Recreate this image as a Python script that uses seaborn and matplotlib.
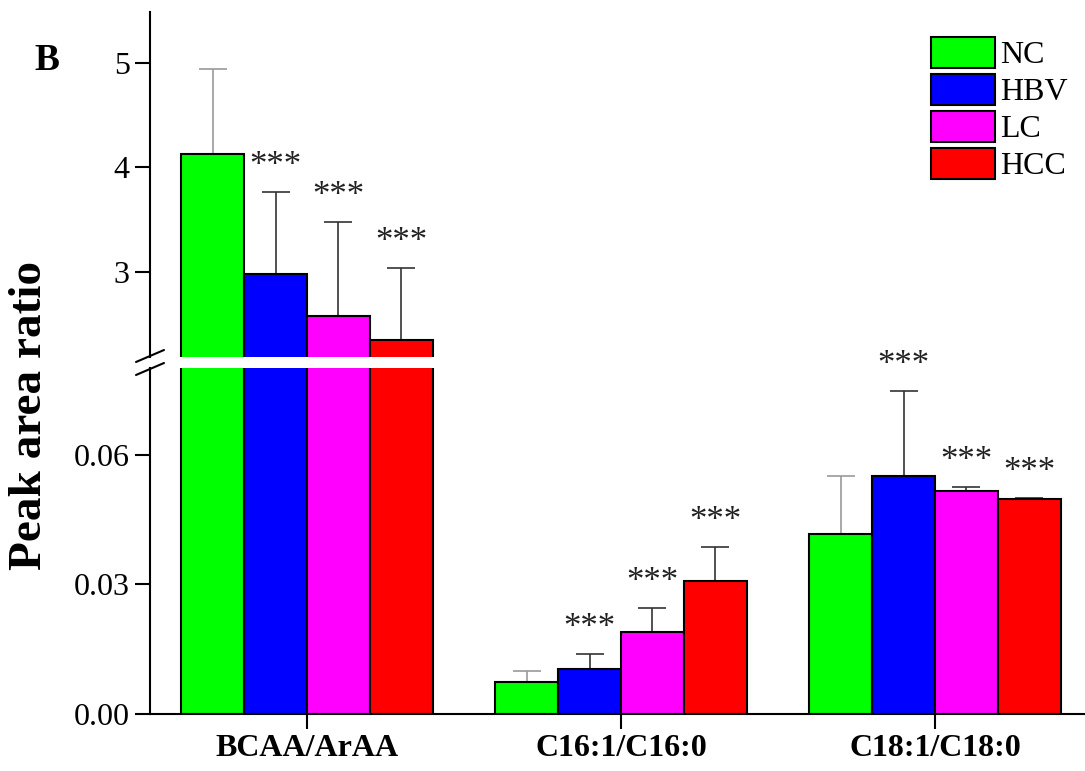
import matplotlib
matplotlib.use("Agg")
import matplotlib.pyplot as plt
import matplotlib.patches as mpatches
from matplotlib.container import BarContainer
from matplotlib.ticker import FormatStrFormatter
import seaborn as sns
import pandas as pd
import numpy as np

# ---- data ----
categories = ["BCAA/ArAA", "C16:1/C16:0", "C18:1/C18:0"]
groups = ["NC", "HBV", "LC", "HCC"]
nc_mean = [4.13, 0.0074, 0.0417]
hbv_mean = [2.98, 0.0104, 0.0551]
lc_mean = [2.58, 0.0190, 0.0517]
hcc_mean = [2.35, 0.0308, 0.0498]
nc_err = [0.81, 0.0026, 0.0134]
hbv_err = [0.79, 0.0035, 0.0197]
lc_err = [0.90, 0.0056, 0.0009]
hcc_err = [0.69, 0.0079, 0.0002]
nc_sig = [False, False, False]
hbv_sig = [True, True, True]
lc_sig = [True, True, True]
hcc_sig = [True, True, True]
colors = ["#00FF00", "#0000FF", "#FF00FF", "#FF0000"]
err_colors = ["#9a9a9a", "#333333", "#333333", "#333333"]
upper_ticks = [3, 4, 5]
lower_ticks = [0.00, 0.03, 0.06]

means = [nc_mean, hbv_mean, lc_mean, hcc_mean]
errs = [nc_err, hbv_err, lc_err, hcc_err]
sigs = [nc_sig, hbv_sig, lc_sig, hcc_sig]

rows = []
for g, m in zip(groups, means):
    for c, v in zip(categories, m):
        rows.append({"Category": c, "Group": g, "Value": v})
df = pd.DataFrame(rows)

sns.set_theme(style="ticks")
plt.rcParams["font.family"] = ["Liberation Serif", "DejaVu Serif"]
plt.rcParams["axes.linewidth"] = 1.5
for k in ("text.color", "axes.labelcolor", "xtick.color", "ytick.color", "axes.edgecolor"):
    plt.rcParams[k] = "black"

fig = plt.figure(figsize=(10.85, 7.71), dpi=100)
L = 150 / 1085
W = 1.0 - L
ax_top = fig.add_axes([L, 1 - 356.7 / 771, W, (356.7 - 11.7) / 771])
ax_bot = fig.add_axes([L, 1 - 714 / 771, W, (714 - 368) / 771])

for ax in (ax_top, ax_bot):
    sns.barplot(data=df, x="Category", y="Value", hue="Group", order=categories,
                hue_order=groups, palette=colors, width=0.8, errorbar=None,
                edgecolor="black", linewidth=1.5, saturation=1, ax=ax, legend=False)
    bar_conts = [c for c in ax.containers if isinstance(c, BarContainer)]
    for gi, cont in enumerate(bar_conts):
        xs = [b.get_x() + b.get_width() / 2 for b in cont.patches]
        hs = [b.get_height() for b in cont.patches]
        ax.errorbar(xs, hs, yerr=[np.zeros(len(hs)), errs[gi]], fmt="none",
                    ecolor=err_colors[gi], elinewidth=1.2, capsize=10, capthick=1.2,
                    zorder=1)
        for x, h, e, s in zip(xs, hs, errs[gi], sigs[gi]):
            if s:
                ax.annotate("***", xy=(x, h + e), xytext=(0, 12), textcoords="offset points",
                            ha="center", va="baseline", fontsize=25, color="#222222")
    ax.set_xlim(-0.5, 2.478)
    ax.set_xlabel("")
    ax.set_ylabel("")
    ax.spines["right"].set_visible(False)
    ax.spines["top"].set_visible(False)
    ax.tick_params(axis="y", direction="out", length=11, width=1.5, labelsize=23)
    for b in ax.patches:
        b.set_zorder(2)

ax_top.set_ylim(2.19, 5.49)
ax_top.set_yticks(upper_ticks)
ax_top.spines["bottom"].set_visible(False)
ax_top.tick_params(axis="x", bottom=False, labelbottom=False)

ax_bot.set_ylim(0, 0.0801)
ax_bot.set_yticks(lower_ticks)
ax_bot.yaxis.set_major_formatter(FormatStrFormatter("%.2f"))
ax_bot.tick_params(axis="x", direction="out", length=11, width=1.5, labelsize=23)
for t in ax_bot.get_xticklabels():
    t.set_fontweight("bold")

# break marks
dx, dy = 14 / 1085, 6 / 771
for yc in (1 - 356.0 / 771, 1 - 369.0 / 771):
    fig.add_artist(plt.Line2D([L - dx, L + dx], [yc - dy, yc + dy], color="black",
                              lw=1.5, transform=fig.transFigure))

# legend
handles = [mpatches.Patch(facecolor=c, edgecolor="black", linewidth=1.5) for c in colors]
fig.legend(handles, groups, loc="upper left", bbox_to_anchor=(931 / 1085, 1 - 37 / 771),
           frameon=False, fontsize=23, handlelength=2.0, handleheight=1.1,
           handletextpad=0.15, labelspacing=0.12, borderpad=0, borderaxespad=0)

fig.text(30 / 1085, 1 - 415 / 771, "Peak area ratio", rotation=90, ha="center",
         va="center", fontsize=34, fontweight="bold")
fig.text(34 / 1085, 1 - 60 / 771, "B", ha="left", va="center", fontsize=27,
         fontweight="bold")

fig.savefig("out.png", dpi=100)
